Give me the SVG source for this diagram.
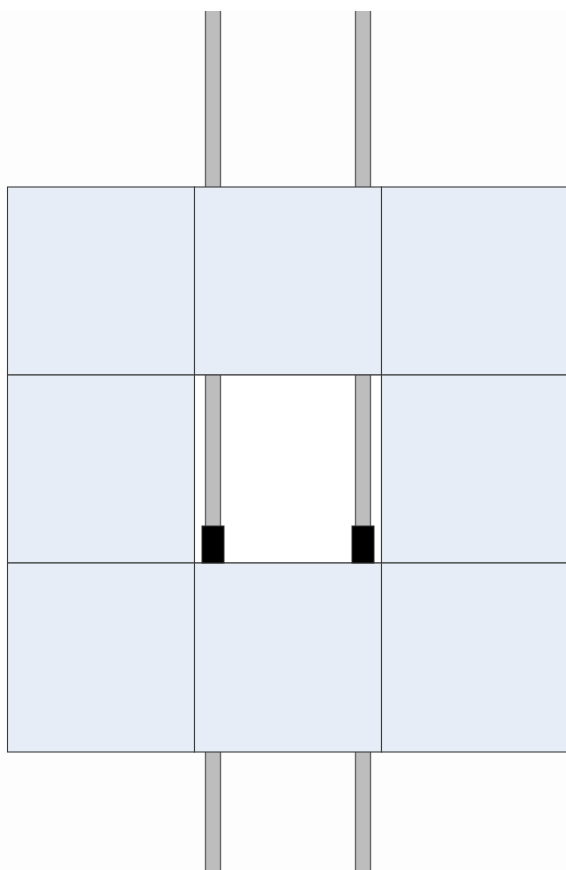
<svg xmlns="http://www.w3.org/2000/svg" width="566" height="870" viewBox="0 0 566 870">
<style>
.pole{fill:#bdbdbd;stroke:none}
.edge{stroke:#666;stroke-width:1.4;fill:none}
.cell{fill:#e6edf7;stroke:#3a3a3a;stroke-width:1.1}
.foot{fill:#000;stroke:#333;stroke-width:1}
</style>
<rect x="0" y="0" width="566" height="870" fill="#fdfdfd"/>
<rect x="0" y="0" width="566" height="11" fill="#ffffff"/>
<g id="poles">
<rect class="pole" x="205.5" y="11" width="15" height="870"/>
<rect class="pole" x="355.5" y="11" width="15" height="870"/>
<path class="edge" d="M205.5 11V870M220.5 11V870M355.5 11V870M370.5 11V870"/>
</g>
<g id="grid">
<rect class="cell" x="7.5" y="187" width="187" height="188"/>
<rect class="cell" x="194.5" y="187" width="187" height="188"/>
<rect class="cell" x="381.5" y="187" width="190" height="188"/>
<rect class="cell" x="7.5" y="375" width="187" height="188"/>
<rect x="194.5" y="375" width="187" height="188" fill="#ffffff"/>
<rect class="pole" x="205.5" y="375" width="15" height="151"/>
<rect class="pole" x="355.5" y="375" width="15" height="151"/>
<path class="edge" d="M205.5 375V526M220.5 375V526M355.5 375V526M370.5 375V526"/>
<rect x="194.5" y="375" width="187" height="188" fill="none" stroke="#3a3a3a" stroke-width="1.1"/>
<rect class="cell" x="381.5" y="375" width="190" height="188"/>
<rect class="cell" x="7.5" y="563" width="187" height="189"/>
<rect class="cell" x="194.5" y="563" width="187" height="189"/>
<rect class="cell" x="381.5" y="563" width="190" height="189"/>
</g>
<g id="feet">
<rect class="foot" x="202" y="526" width="22" height="37"/>
<rect class="foot" x="352" y="526" width="22" height="37"/>
</g>
</svg>
